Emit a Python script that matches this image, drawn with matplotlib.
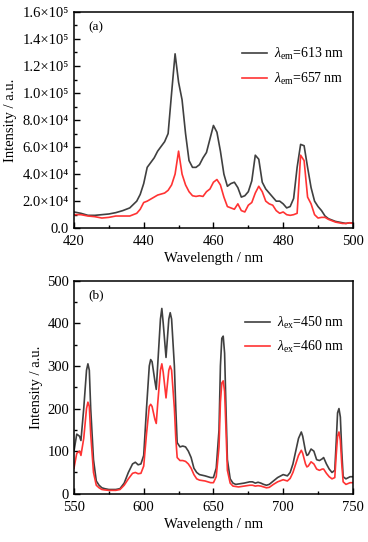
import numpy as np
import matplotlib
matplotlib.use('Agg')
import matplotlib.pyplot as plt
from matplotlib.ticker import MultipleLocator, FuncFormatter

plt.rcParams['font.family'] = ['Liberation Serif', 'DejaVu Serif']
plt.rcParams['mathtext.fontset'] = 'custom'
plt.rcParams['mathtext.rm'] = 'Liberation Serif'
plt.rcParams['mathtext.it'] = 'Liberation Serif:italic'

# (a) excitation spectra
ex_wl = [420, 422, 424, 426, 428, 430, 432, 434, 436, 438, 439, 440, 441, 443, 444, 446,
         447, 448, 449, 450, 451, 452, 453, 454, 455, 456, 457, 458, 459, 460, 461, 462,
         463, 464, 465, 466, 467, 468, 469, 470, 471, 472, 473, 474, 475, 476, 477, 478,
         479, 480, 481, 482, 483, 484, 485, 486, 487, 488, 489, 490, 491, 492, 493, 494,
         495, 496, 497, 498, 499, 500]
ex_613 = [12000, 11000, 9500, 9500, 10000, 10500, 11500, 13000, 15000, 20000, 25000, 33000,
          45000, 52000, 57000, 64000, 70000, 100000, 129000, 108000, 95000, 70000, 50000,
          45000, 45000, 47000, 52000, 56000, 66000, 76000, 71000, 57000, 40000, 31000, 33000,
          34000, 30000, 23000, 24000, 27000, 35000, 54000, 51000, 34000, 29000, 26000, 23000,
          20000, 20000, 18000, 15000, 16000, 22000, 45000, 62000, 61000, 45000, 30000, 20000,
          16000, 13000, 9000, 7000, 6000, 5000, 4500, 4000, 3500, 4000, 3800]
ex_657 = [10000, 10000, 9000, 8500, 7500, 8000, 9000, 9000, 9000, 11000, 14000, 19000,
          20000, 23000, 24500, 26000, 28000, 32000, 40000, 57000, 40000, 32000, 27000,
          24000, 23500, 24000, 23500, 27000, 29000, 34000, 36000, 32000, 23000, 16000, 15000,
          14000, 18000, 13000, 12000, 17000, 19000, 26000, 31000, 27000, 20000, 18000, 17000,
          13000, 11000, 12000, 10000, 9500, 10000, 11000, 54000, 50000, 23000, 18000, 10000,
          7500, 8000, 8000, 6500, 5500, 4500, 4000, 3500, 3500, 4000, 3500]

# (b) emission spectra
em_wl = [550, 552, 554, 555, 557, 559, 560, 561, 562, 564, 566, 568, 570, 572, 575, 580,
         583, 586, 589, 592, 594, 596, 598, 600, 602, 604, 605, 606, 608, 609, 610, 612,
         613, 614, 616, 618, 619, 620, 622, 623, 624, 626, 628, 630, 632, 634, 636, 638,
         640, 644, 648, 650, 652, 654, 655, 656, 657, 658, 659, 660, 662, 664, 666, 668,
         672, 676, 678, 680, 682, 684, 686, 688, 690, 693, 696, 700, 703, 705, 707, 709,
         711, 713, 714, 716, 717, 718, 720, 722, 724, 726, 728, 729, 731, 733, 735, 737,
         738, 739, 740, 741, 742, 743, 745, 748, 750]
em_450 = [100, 140, 135, 125, 200, 290, 305, 290, 200, 80, 30, 20, 14, 12, 10, 10,
          12, 25, 50, 70, 74, 68, 70, 90, 200, 300, 315, 310, 265, 245, 300, 410,
          435, 400, 320, 410, 425, 410, 300, 200, 120, 110, 112, 110, 100, 85, 60, 50,
          45, 42, 38, 38, 60, 150, 300, 365, 370, 330, 200, 80, 35, 25, 22, 23,
          25, 28, 28, 25, 27, 25, 22, 20, 22, 30, 38, 45, 42, 50, 70, 100,
          130, 145, 135, 100, 90, 92, 105, 100, 80, 78, 82, 85, 70, 58, 50, 55,
          120, 190, 200, 180, 100, 40, 35, 40, 40]
em_460 = [60, 95, 100, 90, 130, 200, 215, 205, 140, 50, 20, 14, 10, 9, 8, 8,
          10, 20, 35, 48, 50, 47, 48, 65, 140, 205, 210, 205, 175, 165, 210, 290,
          305, 285, 225, 290, 300, 290, 200, 130, 85, 78, 78, 76, 70, 60, 45, 35,
          32, 30, 26, 26, 40, 110, 215, 260, 265, 240, 150, 55, 25, 18, 17, 16,
          18, 20, 20, 18, 19, 18, 16, 14, 15, 22, 28, 33, 30, 36, 50, 70,
          90, 102, 95, 70, 63, 65, 75, 70, 58, 55, 58, 58, 48, 40, 35, 38,
          90, 135, 145, 125, 70, 28, 22, 26, 26]

BLACK = '#404040'
RED = '#ff3333'
SUP = str.maketrans('0123456789', '⁰¹²³⁴⁵⁶⁷⁸⁹')


def sci_fmt(v, pos):
    if v == 0:
        return '0.0'
    exp = int(np.floor(np.log10(abs(v))))
    mant = v / 10 ** exp
    return '%.1f×10%s' % (mant, str(exp).translate(SUP))


def style_axes(ax):
    ax.tick_params(which='both', direction='in', top=False, right=False, labelsize=10.5)
    ax.tick_params(axis='x', pad=5)
    ax.tick_params(which='major', length=4, width=1)
    ax.tick_params(which='minor', length=2, width=1)
    for s in ax.spines.values():
        s.set_linewidth(1.1)


fig = plt.figure(figsize=(3.68, 5.42), dpi=100)
ax1 = fig.add_axes([0.201, 0.579, 0.758, 0.399])
ax2 = fig.add_axes([0.201, 0.089, 0.758, 0.393])

# panel (a)
ax1.plot(ex_wl, ex_613, color=BLACK, lw=1.2, label=r'$\lambda_{\rm em}$=613 nm')
ax1.plot(ex_wl, ex_657, color=RED, lw=1.2, label=r'$\lambda_{\rm em}$=657 nm')
ax1.set_xlim(420, 500)
ax1.set_ylim(0, 1.6e5)
ax1.xaxis.set_major_locator(MultipleLocator(20))
ax1.xaxis.set_minor_locator(MultipleLocator(10))
ax1.yaxis.set_major_locator(MultipleLocator(2e4))
ax1.yaxis.set_minor_locator(MultipleLocator(1e4))
ax1.yaxis.set_major_formatter(FuncFormatter(sci_fmt))
ax1.set_xlabel('Wavelength / nm', fontsize=10.5, labelpad=3)
ax1.set_ylabel('Intensity / a.u.', fontsize=10.5, labelpad=4)
ax1.text(0.05, 0.93, '(a)', transform=ax1.transAxes, fontsize=9.5, va='center')
ax1.legend(loc='upper right', bbox_to_anchor=(1.0, 0.88), frameon=False, fontsize=10,
           handlelength=1.8, handletextpad=0.5, labelspacing=0.6, borderaxespad=0.2)
style_axes(ax1)

# panel (b)
ax2.plot(em_wl, em_450, color=BLACK, lw=1.2, label=r'$\lambda_{\rm ex}$=450 nm')
ax2.plot(em_wl, em_460, color=RED, lw=1.2, label=r'$\lambda_{\rm ex}$=460 nm')
ax2.set_xlim(550, 750)
ax2.set_ylim(0, 500)
ax2.xaxis.set_major_locator(MultipleLocator(50))
ax2.xaxis.set_minor_locator(MultipleLocator(25))
ax2.yaxis.set_major_locator(MultipleLocator(100))
ax2.yaxis.set_minor_locator(MultipleLocator(50))
ax2.set_xlabel('Wavelength / nm', fontsize=10.5, labelpad=3)
ax2.set_ylabel('Intensity / a.u.', fontsize=10.5, labelpad=3)
ax2.text(0.05, 0.93, '(b)', transform=ax2.transAxes, fontsize=9.5, va='center')
ax2.legend(loc='upper right', bbox_to_anchor=(1.0, 0.88), frameon=False, fontsize=10,
           handlelength=1.8, handletextpad=0.5, labelspacing=0.6, borderaxespad=0.2)
style_axes(ax2)

fig.savefig('out.png', dpi=100)
